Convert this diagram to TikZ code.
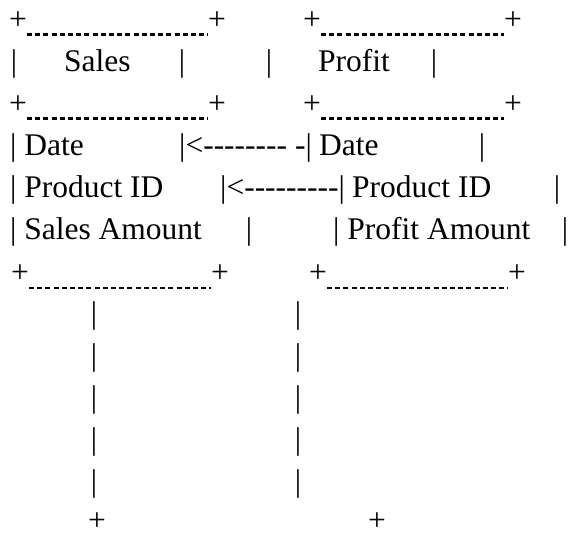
\documentclass[tikz,border=0pt]{standalone}
\usepackage{fontspec}
\setmainfont{Liberation Serif}
% a hyphen that does not merge into an en dash
\newcommand\hyp{-\kern0pt}

\begin{document}
\begin{tikzpicture}[
    x=1pt,y=-1pt,
    txt/.style={inner sep=0pt,anchor=base west,
        font=\fontsize{31.5}{36}\selectfont},
    glyph/.style={txt,anchor=base},
    rule/.style={line width=2.2pt,dash pattern=on 5pt off 3.2pt}
]
\path[use as bounding box] (0,0) rectangle (571,537);

% top and middle borders of both tables
\foreach \row/\y in {Top/30,Mid/114}{
  \node[glyph] (salesL\row) at (18,\y) {+};
  \node[glyph] (salesR\row) at (217,\y) {+};
  \node[glyph] (profitL\row) at (312,\y) {+};
  \node[glyph] (profitR\row) at (513,\y) {+};
  \draw[rule] ([yshift=-4.5pt]salesL\row.base east)
      -- ([yshift=-4.5pt]salesR\row.base west);
  \draw[rule] ([yshift=-4.5pt]profitL\row.base east)
      -- ([yshift=-4.5pt]profitR\row.base west);
}

% titles
\node[glyph] (salesBar1) at (14,72) {|};
\node[txt] (salesTitle) at (64,72) {Sales};
\node[glyph] (salesBar2) at (182,72) {|};
\node[glyph] (profitBar1) at (269,72) {|};
\node[txt] (profitTitle) at (318,72) {Profit};
\node[glyph] (profitBar2) at (434,72) {|};

% fields
\node[txt] (salesDate) at (10,156) {| Date};
\node[txt] (dateLink) at (179,156)
    {|<\hyp\hyp\hyp\hyp\hyp\hyp\hyp\hyp{} \hyp|};
\node[txt] (profitDate) at (319,156) {Date};
\node[glyph] (profitDateEnd) at (482,156) {|};

\node[txt] (salesProduct) at (10,198) {| Product ID};
\node[txt] (productLink) at (220,198)
    {|<\hyp\hyp\hyp\hyp\hyp\hyp\hyp\hyp\hyp|};
\node[txt] (profitProduct) at (352,198) {Product ID};
\node[glyph] (profitProductEnd) at (557,198) {|};

\node[txt] (salesAmount) at (10,240) {| Sales Amount};
\node[glyph] (salesAmountEnd) at (249,240) {|};
\node[txt] (profitAmount) at (333,240) {| Profit Amount};
\node[glyph] (profitAmountEnd) at (565,240) {|};

% bottom borders
\node[glyph] (salesLBot) at (20,283) {+};
\node[glyph] (salesRBot) at (220,283) {+};
\node[glyph] (profitLBot) at (318,283) {+};
\node[glyph] (profitRBot) at (517,283) {+};
\draw[rule] ([yshift=-5pt]salesLBot.base east)
    -- ([yshift=-5pt]salesRBot.base west);
\draw[rule] ([yshift=-5pt]profitLBot.base east)
    -- ([yshift=-5pt]profitRBot.base west);

% stems below the tables
\foreach \k [evaluate=\k as \y using 324+42*\k] in {0,...,4}{
  \node[glyph] (salesStem\k) at (94,\y) {|};
  \node[glyph] (profitStem\k) at (298,\y) {|};
}
\node[glyph] (salesEnd) at (97,531) {+};
\node[glyph] (profitEnd) at (377,531) {+};
\end{tikzpicture}
\end{document}
